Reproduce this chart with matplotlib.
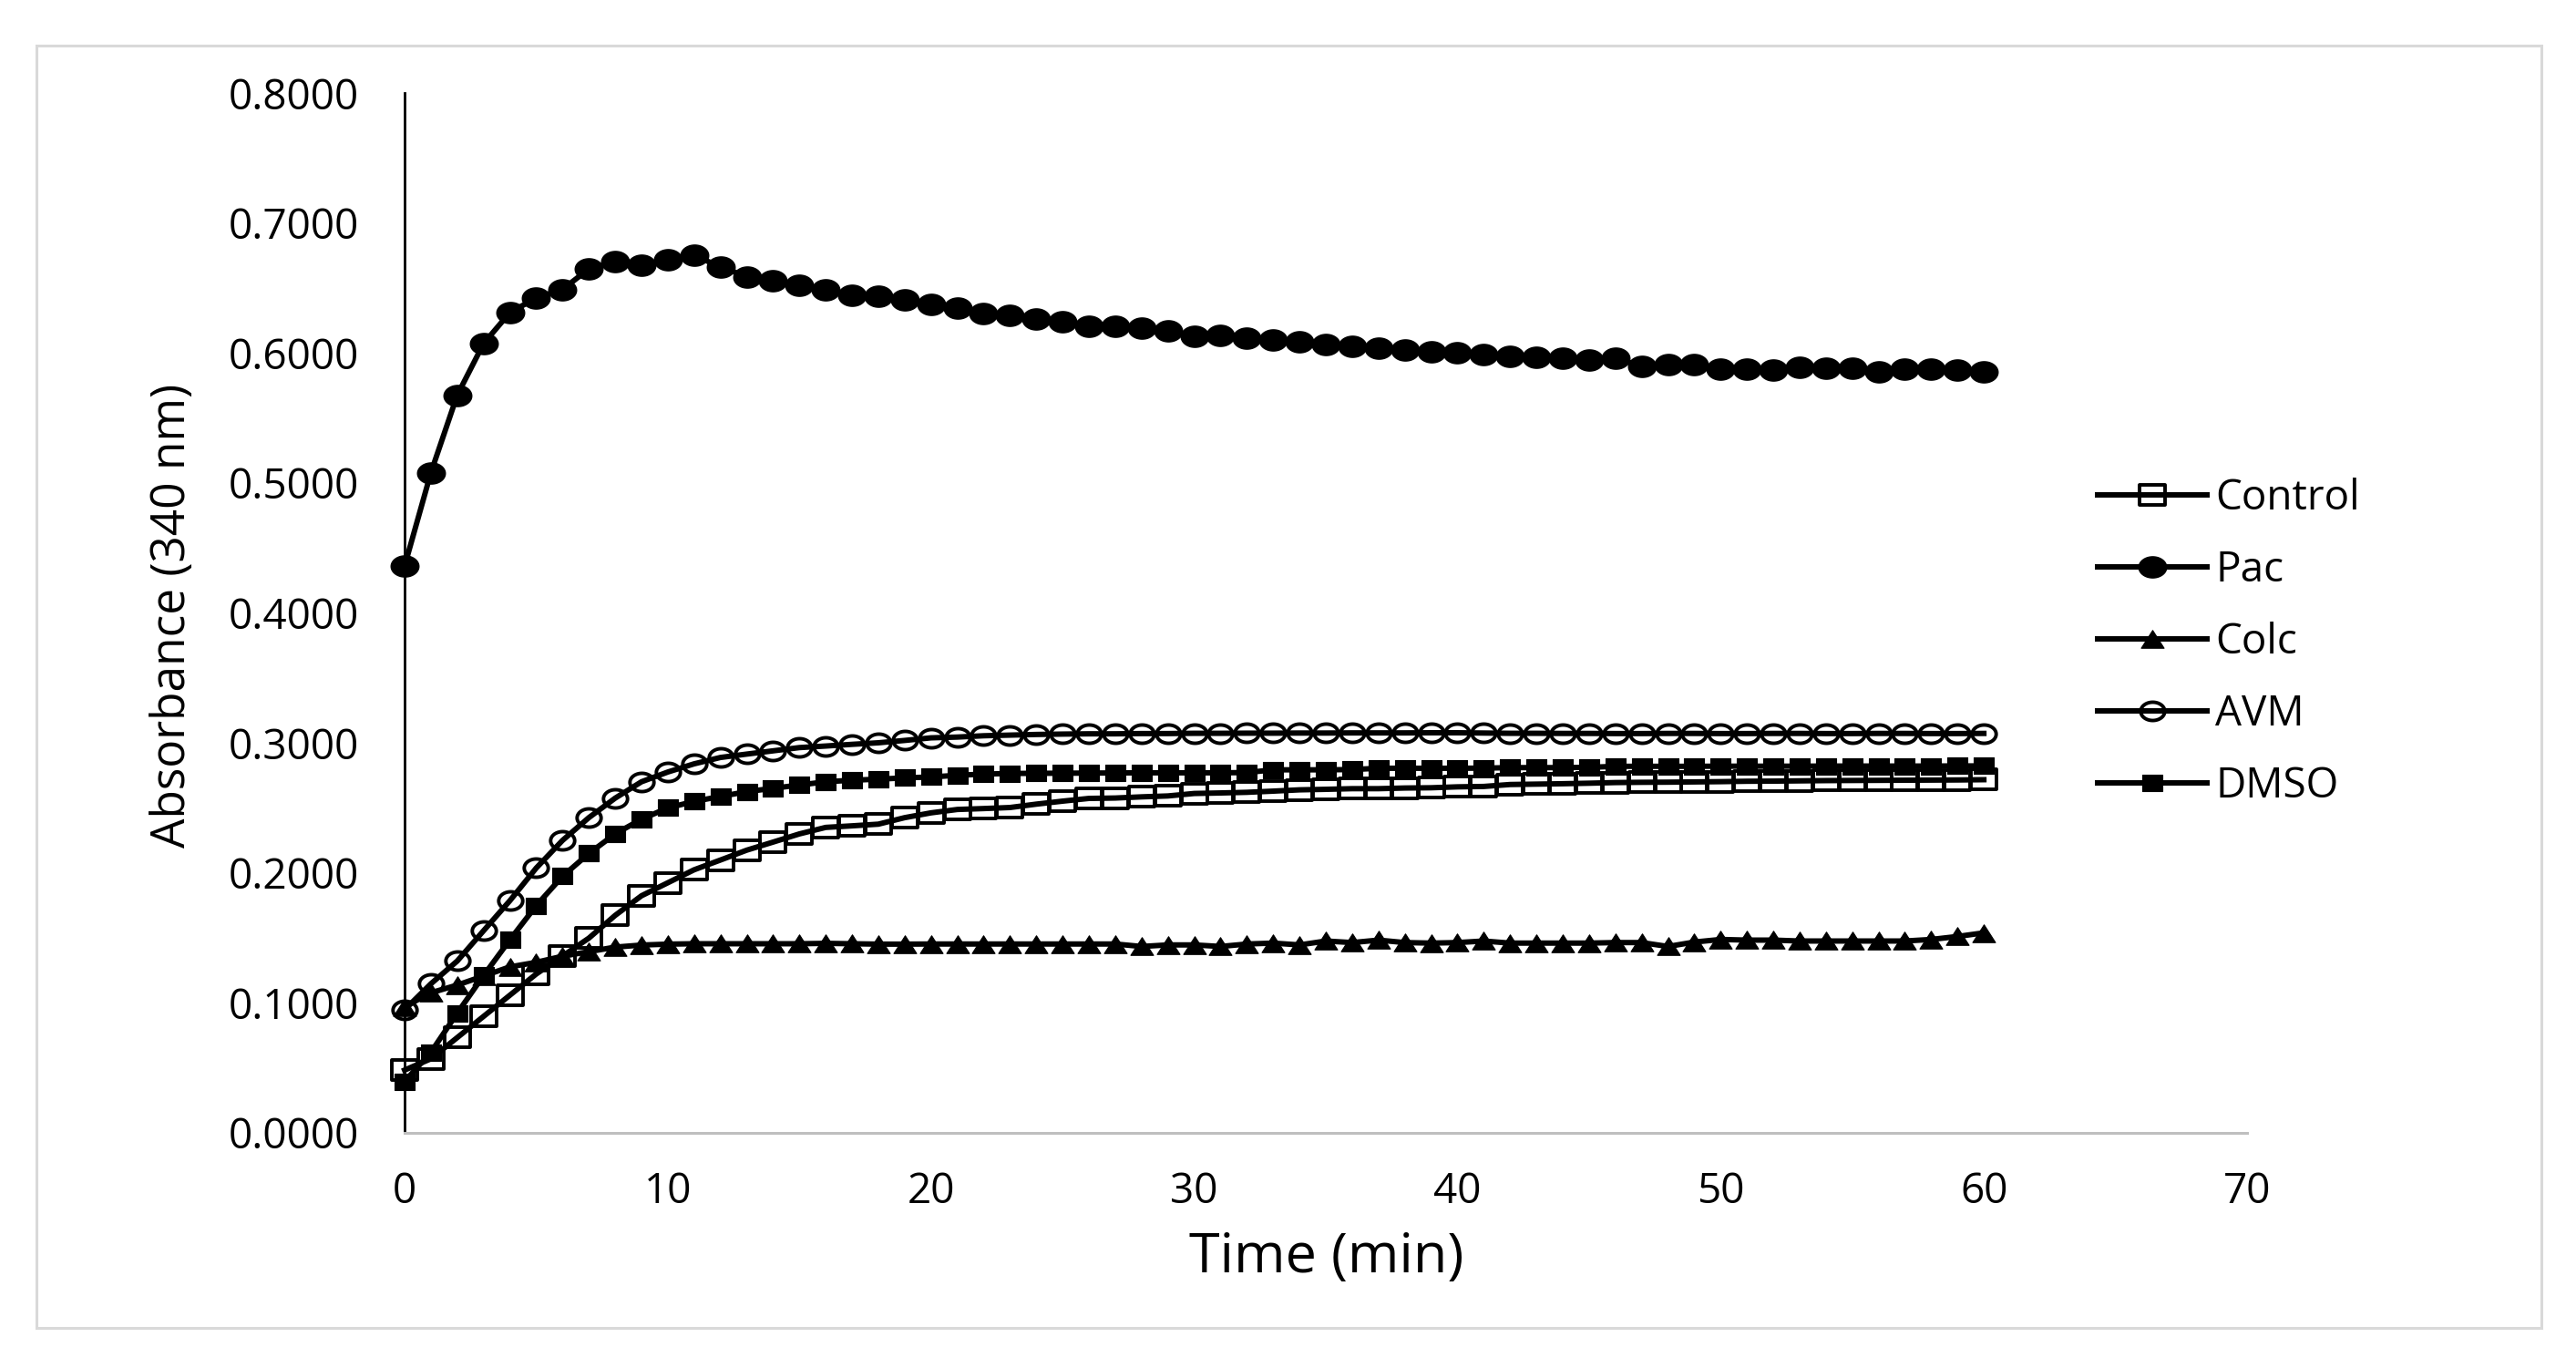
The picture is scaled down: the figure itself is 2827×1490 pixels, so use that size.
import numpy as np
import matplotlib
matplotlib.use("Agg")
import matplotlib.pyplot as plt
from matplotlib.path import Path
from matplotlib.patches import Rectangle

plt.rcParams['font.family'] = ['Open Sans', 'DejaVu Sans']

# ---------------- data ----------------
time_min = list(range(0, 61))

control = [0.0483, 0.0570, 0.0733, 0.0896, 0.1059, 0.1222, 0.1360, 0.1498, 0.1673, 0.1824,
           0.1924, 0.2024, 0.2099, 0.2175, 0.2237, 0.2300, 0.2350, 0.2362, 0.2375, 0.2425,
           0.2462, 0.2488, 0.2495, 0.2503, 0.2529, 0.2552, 0.2573, 0.2576, 0.2585, 0.2592,
           0.2611, 0.2615, 0.2620, 0.2629, 0.2639, 0.2643, 0.2648, 0.2648, 0.2653, 0.2655,
           0.2662, 0.2665, 0.2680, 0.2683, 0.2686, 0.2690, 0.2695, 0.2697, 0.2698, 0.2700,
           0.2702, 0.2705, 0.2706, 0.2708, 0.2710, 0.2711, 0.2712, 0.2713, 0.2714, 0.2715,
           0.2717]

pac = [0.4360, 0.5079, 0.5675, 0.6072, 0.6311, 0.6423, 0.6489, 0.6646, 0.6704, 0.6676,
       0.6716, 0.6751, 0.6662, 0.6587, 0.6559, 0.6522, 0.6489, 0.6442, 0.6435, 0.6405,
       0.6372, 0.6346, 0.6300, 0.6288, 0.6264, 0.6243, 0.6206, 0.6206, 0.6189, 0.6171,
       0.6131, 0.6138, 0.6115, 0.6103, 0.6084, 0.6065, 0.6049, 0.6037, 0.6026, 0.6007,
       0.6002, 0.5991, 0.5974, 0.5967, 0.5960, 0.5944, 0.5960, 0.5897, 0.5914, 0.5914,
       0.5874, 0.5874, 0.5867, 0.5890, 0.5886, 0.5886, 0.5858, 0.5874, 0.5874, 0.5867,
       0.5858]

colc = [0.0970, 0.1078, 0.1137, 0.1207, 0.1277, 0.1312, 0.1359, 0.1394, 0.1429, 0.1445,
        0.1452, 0.1455, 0.1455, 0.1455, 0.1455, 0.1455, 0.1458, 0.1455, 0.1452, 0.1452,
        0.1453, 0.1453, 0.1453, 0.1453, 0.1453, 0.1453, 0.1453, 0.1453, 0.1434, 0.1446,
        0.1446, 0.1434, 0.1453, 0.1460, 0.1446, 0.1476, 0.1464, 0.1483, 0.1464, 0.1460,
        0.1464, 0.1476, 0.1460, 0.1460, 0.1460, 0.1460, 0.1464, 0.1464, 0.1434, 0.1468,
        0.1488, 0.1483, 0.1483, 0.1476, 0.1476, 0.1476, 0.1476, 0.1476, 0.1488, 0.1511,
        0.1539]

avm = [0.0947, 0.1147, 0.1322, 0.1555, 0.1786, 0.2037, 0.2250, 0.2425, 0.2575, 0.2701,
       0.2776, 0.2839, 0.2888, 0.2914, 0.2939, 0.2964, 0.2976, 0.2989, 0.3001, 0.3019,
       0.3039, 0.3045, 0.3055, 0.3060, 0.3065, 0.3068, 0.3070, 0.3070, 0.3072, 0.3072,
       0.3074, 0.3074, 0.3075, 0.3075, 0.3076, 0.3076, 0.3077, 0.3077, 0.3077, 0.3078,
       0.3078, 0.3076, 0.3074, 0.3074, 0.3073, 0.3073, 0.3072, 0.3072, 0.3073, 0.3073,
       0.3072, 0.3072, 0.3073, 0.3073, 0.3072, 0.3072, 0.3073, 0.3073, 0.3072, 0.3072,
       0.3073]

dmso = [0.0395, 0.0620, 0.0921, 0.1210, 0.1485, 0.1748, 0.1974, 0.2149, 0.2300, 0.2413,
        0.2500, 0.2550, 0.2588, 0.2625, 0.2651, 0.2676, 0.2701, 0.2713, 0.2721, 0.2731,
        0.2738, 0.2751, 0.2760, 0.2765, 0.2766, 0.2767, 0.2768, 0.2769, 0.2770, 0.2770,
        0.2770, 0.2770, 0.2772, 0.2793, 0.2793, 0.2793, 0.2795, 0.2805, 0.2805, 0.2805,
        0.2805, 0.2806, 0.2810, 0.2810, 0.2810, 0.2812, 0.2820, 0.2820, 0.2820, 0.2820,
        0.2821, 0.2821, 0.2821, 0.2821, 0.2822, 0.2822, 0.2822, 0.2822, 0.2822, 0.2823,
        0.2823]

series_names = ["Control", "Pac", "Colc", "AVM", "DMSO"]
x_ticks = [0, 10, 20, 30, 40, 50, 60, 70]
y_ticks = [0.0, 0.1, 0.2, 0.3, 0.4, 0.5, 0.6, 0.7, 0.8]
x_label = "Time (min)"
y_label = "Absorbance (340 nm)"

# ---------------- marker shapes (slightly wide, as in the reference) ----------------
def ellipse_path(ry):
    th = np.linspace(0, 2 * np.pi, 73)
    return Path(np.column_stack([np.cos(th), ry * np.sin(th)]), closed=True)

def rect_path(ry):
    return Path([(-1, -ry), (1, -ry), (1, ry), (-1, ry), (-1, -ry)], closed=True)

def tri_path(h):
    return Path([(-1, -h), (1, -h), (0, h), (-1, -h)], closed=True)

W, H, DPI = 2827, 1490, 100
fig = plt.figure(figsize=(W / DPI, H / DPI), dpi=DPI)
fig.patch.set_facecolor("white")

# outer light-grey frame
fig.add_artist(Rectangle((40 / W, 1 - 1457 / H), (2789 - 40) / W, (1457 - 50) / H,
                         transform=fig.transFigure, fill=False, ec="#d9d9d9", lw=2.2))

left, right = 444 / W, 2466 / W
bottom, top = 1 - 1243 / H, 1 - 102 / H
ax = fig.add_axes([left, bottom, right - left, top - bottom])

lw = 4.3
styles = {
    "Control": dict(marker=rect_path(0.78), ms=20.5, mfc="none", mec="black", mew=2.8),
    "Pac": dict(marker=ellipse_path(0.76), ms=22.0, mfc="black", mec="black", mew=1.0),
    "Colc": dict(marker=tri_path(0.78), ms=18.0, mfc="black", mec="black", mew=0.8),
    "AVM": dict(marker=ellipse_path(0.76), ms=19.0, mfc="none", mec="black", mew=2.8),
    "DMSO": dict(marker=rect_path(0.82), ms=16.5, mfc="black", mec="black", mew=0.8),
}
data = {"Control": control, "Pac": pac, "Colc": colc, "AVM": avm, "DMSO": dmso}

for i, name in enumerate(series_names):
    ax.plot(time_min, data[name], color="black", lw=lw, label=name,
            clip_on=False, zorder=3 + i, **styles[name])

ax.set_xlim(0, 70)
ax.set_ylim(0, 0.8)
ax.set_xticks(x_ticks)
ax.set_yticks(y_ticks)
ax.set_xticklabels([str(v) for v in x_ticks])
ax.set_yticklabels([f"{v:.4f}" for v in y_ticks])
ax.tick_params(axis="both", length=0, labelsize=33, colors="black")
ax.tick_params(axis="y", pad=36)
ax.tick_params(axis="x", pad=30)

for s in ["top", "right"]:
    ax.spines[s].set_visible(False)
ax.spines["left"].set_color("black")
ax.spines["left"].set_linewidth(2.0)
ax.spines["bottom"].set_color("#bfbfbf")
ax.spines["bottom"].set_linewidth(2.2)

ax.set_xlabel(x_label, fontsize=44)
ax.xaxis.set_label_coords(0.5005, -0.12)
ax.xaxis.label.set_va("center")
ax.set_ylabel(y_label, fontsize=37)
ax.yaxis.set_label_coords(-0.126, 0.497)
ax.yaxis.label.set_va("center")
ax.yaxis.label.set_ha("center")

leg_fs = 33
ax.legend(loc="center left", bbox_to_anchor=(2302 / W, 1 - 705 / H),
          bbox_transform=fig.transFigure, frameon=False, fontsize=leg_fs,
          handlelength=120 / (leg_fs / 0.72), handletextpad=0.2, labelspacing=0.72,
          borderpad=0, borderaxespad=0, numpoints=1)

fig.savefig("out.png", dpi=DPI, facecolor="white")
